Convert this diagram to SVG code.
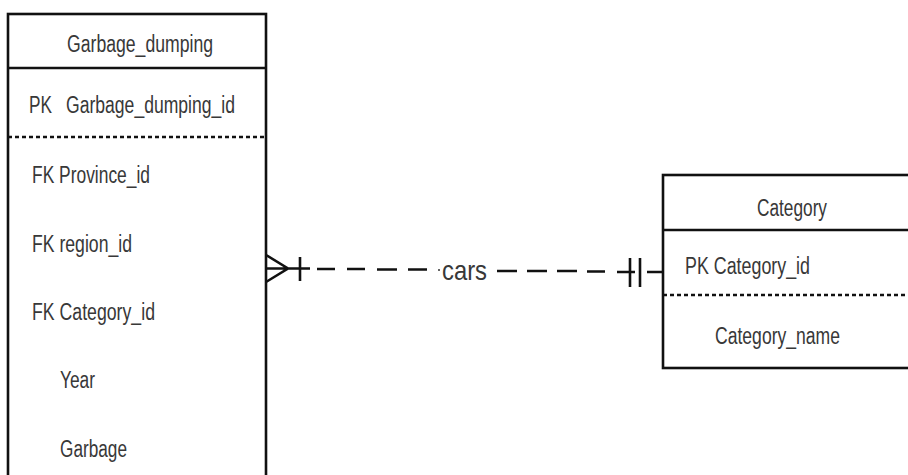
<svg xmlns="http://www.w3.org/2000/svg" width="908" height="475" viewBox="0 0 908 475">
<defs>
<style>
.box{fill:#fff;stroke:#111;stroke-width:2.6}
.sep{stroke:#111;stroke-width:2.6;fill:none}
.dot{stroke:#111;stroke-width:2.4;stroke-dasharray:4 3;fill:none}
.t{font-family:"Liberation Sans",Arial,sans-serif;font-size:23px;fill:#383838}
.c{stroke:#111;stroke-width:2.6;fill:none}
</style>
</defs>
<rect width="908" height="475" fill="#fff"/>
<g id="garbage_dumping">
<rect class="box" x="8" y="14" width="258" height="480"/>
<line class="sep" x1="8" y1="68" x2="266" y2="68"/>
<line class="dot" x1="8" y1="137" x2="266" y2="137"/>
<text class="t" x="67" y="52" textLength="146" lengthAdjust="spacingAndGlyphs">Garbage_dumping</text>
<text class="t" x="29" y="113" textLength="23" lengthAdjust="spacingAndGlyphs">PK</text>
<text class="t" x="66" y="113" textLength="169" lengthAdjust="spacingAndGlyphs">Garbage_dumping_id</text>
<text class="t" x="32" y="183" textLength="118" lengthAdjust="spacingAndGlyphs">FK Province_id</text>
<text class="t" x="32" y="252" textLength="100" lengthAdjust="spacingAndGlyphs">FK region_id</text>
<text class="t" x="32" y="320" textLength="123" lengthAdjust="spacingAndGlyphs">FK Category_id</text>
<text class="t" x="60" y="388" textLength="35" lengthAdjust="spacingAndGlyphs">Year</text>
<text class="t" x="60" y="457" textLength="67" lengthAdjust="spacingAndGlyphs">Garbage</text>
</g>
<g id="category">
<rect class="box" x="663" y="175" width="260" height="193"/>
<line class="sep" x1="663" y1="230" x2="923" y2="230"/>
<line class="dot" x1="663" y1="295" x2="923" y2="295"/>
<text class="t" x="757" y="216" textLength="70" lengthAdjust="spacingAndGlyphs">Category</text>
<text class="t" x="685" y="274" textLength="125" lengthAdjust="spacingAndGlyphs">PK Category_id</text>
<text class="t" x="715" y="344" textLength="125" lengthAdjust="spacingAndGlyphs">Category_name</text>
</g>
<g id="connectors">
<path class="c" d="M266 255 L288 268.5 L266 282 M266 268.5 L310 268.5 M300 257 L300 281"/>
<path class="c" d="M317 269 H335 M347 269 H365 M377 269.5 H397 M408 269.5 H427"/>
<path class="c" d="M497 271 H517 M527 271 H547 M557 271 H577 M587 271.5 H605"/>
<path class="c" d="M617 272 H635 M630 258 V287 M640 258 V287 M647 272 H663"/>
<circle cx="439" cy="270" r="1" fill="#333"/>
<text class="t" x="442" y="280" style="font-size:28px" textLength="45" lengthAdjust="spacingAndGlyphs">cars</text>
</g>
</svg>
